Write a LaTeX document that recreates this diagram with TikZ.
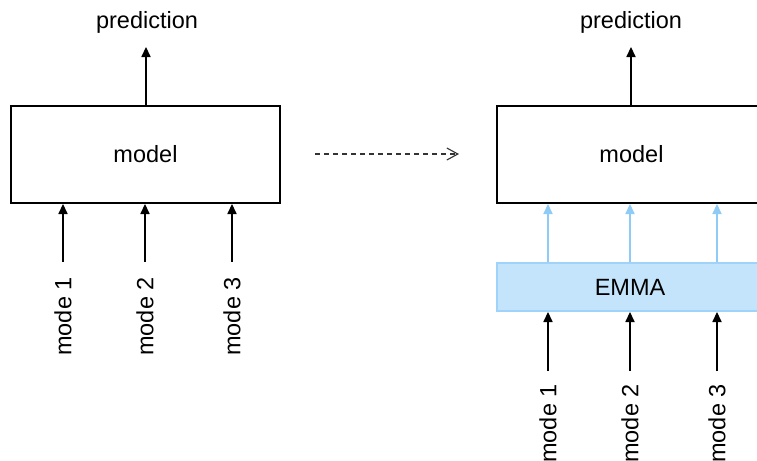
\documentclass[tikz,border=0pt]{standalone}
\usepackage{fontspec}
\setmainfont{Liberation Sans}
\usetikzlibrary{arrows.meta,calc}
\definecolor{emmafill}{HTML}{C4E4FC}
\definecolor{emmaline}{HTML}{9FD3FA}
\definecolor{emmaarrow}{HTML}{8ECBF7}
\definecolor{dashgray}{HTML}{333333}
\begin{document}
\begin{tikzpicture}[x=0.5pt,y=-0.5pt,
  every node/.style={font=\fontsize{11.75}{14}\selectfont, inner sep=0pt},
  box/.style={draw=black, line width=1pt, minimum width=134.5pt, minimum height=48.5pt},
  emmabox/.style={draw=emmaline, fill=emmafill, line width=1pt, minimum width=134.5pt, minimum height=24pt},
  arr/.style={draw=black, line width=0.55pt, -{Triangle[length=5pt,width=4.6pt]}},
  barr/.style={draw=emmaarrow, line width=0.55pt, -{Triangle[length=5pt,width=4.6pt]}},
  modelabel/.style={rotate=90},
  flow/.style={draw=dashgray, line width=0.55pt, dash pattern=on 2.6pt off 1.9pt,
    -{Straight Barb[length=5.5pt,width=6pt,line width=0.55pt]}}]
\useasboundingbox (0,0) rectangle (757,461);

% ---- plain model ----
\node[box] (mL) at (145.5,154.5) {model};
\node (pL) at (147,22) {prediction};
\draw[arr] (mL.north -| pL) ++(-1,0) coordinate (oL) -- (oL |- 0,47) coordinate (tL);

\foreach \i/\x in {1/63,2/145,3/232}{
  \node[modelabel] (lL\i) at (\x,316.5) {mode \i};
  \draw[arr] ($(lL\i.east)+(0,-15)$) -- (lL\i.east |- mL.south);
}

% ---- transition ----
\coordinate (fa) at (315,154);
\coordinate (fb) at (459,154);
\draw[flow] (fa) -- (fb);

% ---- model with EMMA ----
\node[box] (mR) at (631.5,154.5) {model};
\node (pR) at (631,22) {prediction};
\draw[arr] (mR.north -| pR) coordinate (oR) -- (oR |- 0,47) coordinate (tR);

\node[emmabox] (emma) at (631.5,287) {};
\node (emmat) at (630,287) {EMMA};

\foreach \i/\x in {1/548,2/630,3/717}{
  \node[modelabel] (lR\i) at (\x,423.5) {mode \i};
  \draw[arr] (lR\i.east |- 0,371) coordinate (sR\i) -- (sR\i |- emma.south);
  \draw[barr] (lR\i.east |- emma.north) -- (lR\i.east |- mR.south);
}
\end{tikzpicture}
\end{document}
